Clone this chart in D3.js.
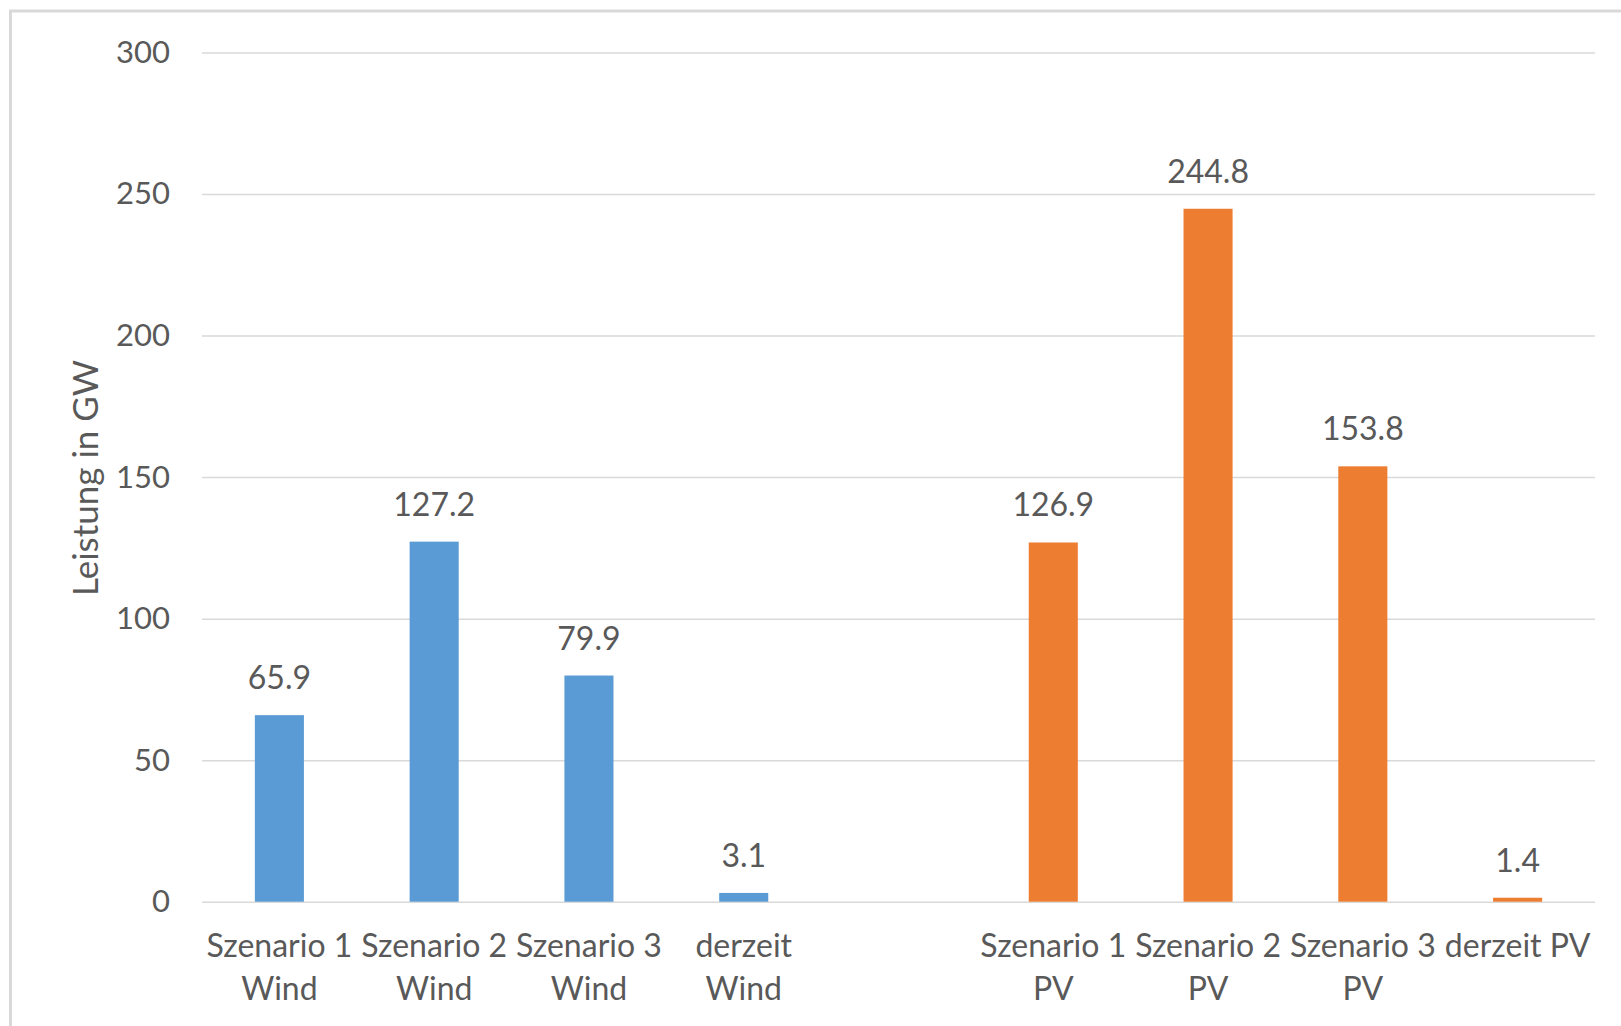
<!DOCTYPE html>
<html lang="de">
<head>
<meta charset="UTF-8">
<title>Leistung in GW</title>
<script src="https://d3js.org/d3.v7.min.js"></script>
<style>
  html, body { margin: 0; padding: 0; background: #fff; }
  svg { display: block; }
  .tick text { fill: #595959; }
</style>
</head>
<body>
<div id="chart"></div>
<script>
// categories (an empty slot separates the two groups)
var windLabels = [["Szenario 1", "Wind"], ["Szenario 2", "Wind"], ["Szenario 3", "Wind"], ["derzeit", "Wind"]];
var pvLabels = [["Szenario 1", "PV"], ["Szenario 2", "PV"], ["Szenario 3", "PV"], ["derzeit PV"]];
var windValues = [65.9, 127.2, 79.9, 3.1];
var pvValues = [126.9, 244.8, 153.8, 1.4];
var yTicks = [0, 50, 100, 150, 200, 250, 300];
var yTitle = "Leistung in GW";

var width = 1621, height = 1026;
var font = "Lato, 'Open Sans', sans-serif";
var textColor = "#595959";

var svg = d3.select("#chart").append("svg")
    .attr("width", width)
    .attr("height", height);

// outer chart border
svg.append("rect")
    .attr("x", 10.5).attr("y", 11)
    .attr("width", width + 20).attr("height", height + 20)
    .attr("fill", "#fff")
    .attr("stroke", "#d9d9d9")
    .attr("stroke-width", 3);

var rows = [];
windLabels.forEach(function(l, i) { rows.push({ key: "w" + i, lines: l, value: windValues[i], color: "#5B9BD5" }); });
rows.push({ key: "gap", lines: [], value: null });
pvLabels.forEach(function(l, i) { rows.push({ key: "p" + i, lines: l, value: pvValues[i], color: "#ED7D31" }); });

var x = d3.scaleBand()
    .domain(rows.map(function(d) { return d.key; }))
    .range([202, 1595]);

var y = d3.scaleLinear()
    .domain([0, 300])
    .range([901.7, 52.5]);

// y axis with gridlines
var yAxis = svg.append("g")
    .attr("transform", "translate(202,0)")
    .call(d3.axisLeft(y).tickValues(yTicks).tickSize(-(1595 - 202)).tickPadding(32));
yAxis.select(".domain").remove();
yAxis.selectAll(".tick line").attr("stroke", "#d9d9d9").attr("stroke-width", 1.5);
yAxis.selectAll(".tick text")
    .style("font-family", font)
    .style("font-size", "31px")
    .attr("fill", textColor);

// bars
var barW = x.bandwidth() * 0.317;
var bars = rows.filter(function(d) { return d.value !== null; });

svg.selectAll(".bar")
    .data(bars)
    .enter().append("rect")
    .attr("class", "bar")
    .attr("x", function(d) { return x(d.key) + (x.bandwidth() - barW) / 2; })
    .attr("y", function(d) { return y(d.value); })
    .attr("width", barW)
    .attr("height", function(d) { return y(0) - y(d.value); })
    .attr("fill", function(d) { return d.color; });

// value labels
svg.selectAll(".val")
    .data(bars)
    .enter().append("text")
    .attr("class", "val")
    .attr("x", function(d) { return x(d.key) + x.bandwidth() / 2; })
    .attr("y", function(d) { return y(d.value) - 26; })
    .attr("text-anchor", "middle")
    .style("font-family", font)
    .style("font-size", "32px")
    .attr("fill", textColor)
    .text(function(d) { return d.value.toFixed(1); });

// category labels
var cat = svg.selectAll(".cat")
    .data(rows)
    .enter().append("text")
    .attr("class", "cat")
    .attr("text-anchor", "middle")
    .style("font-family", font)
    .style("font-size", "32px")
    .attr("fill", textColor);
cat.selectAll("tspan")
    .data(function(d) { return d.lines.map(function(t) { return { t: t, k: d.key }; }); })
    .enter().append("tspan")
    .attr("x", function(d) { return x(d.k) + x.bandwidth() / 2; })
    .attr("y", function(d, i) { return 957 + i * 43; })
    .text(function(d) { return d.t; });

// y axis title
svg.append("text")
    .attr("transform", "translate(98,478) rotate(-90)")
    .attr("text-anchor", "middle")
    .style("font-family", font)
    .style("font-size", "35px")
    .attr("fill", textColor)
    .text(yTitle);
</script>
</body>
</html>
